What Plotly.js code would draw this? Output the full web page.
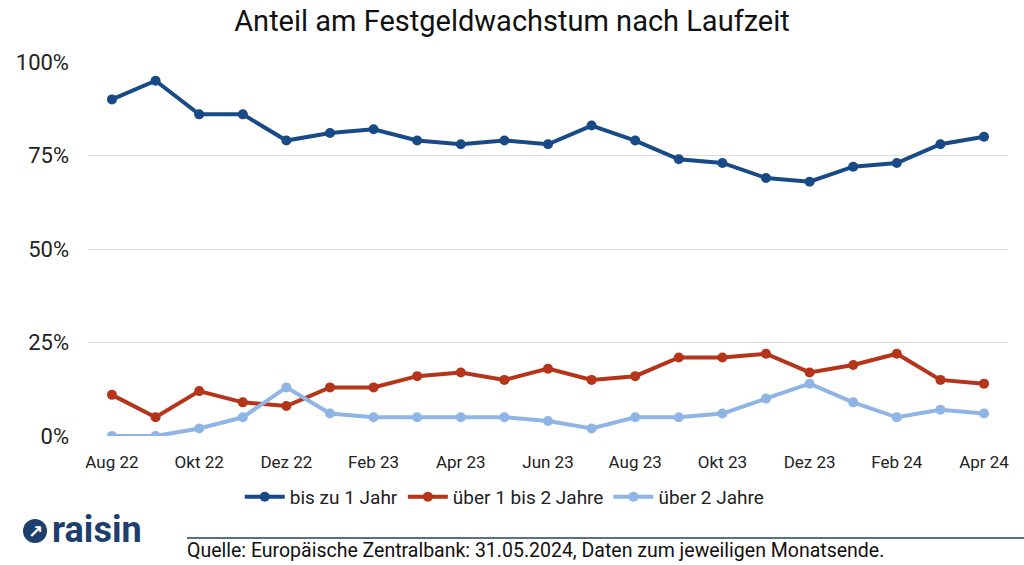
<!DOCTYPE html>
<html>
<head>
<meta charset="utf-8">
<script src="https://cdn.plot.ly/plotly-3.0.1.min.js"></script>
<style>
html,body{margin:0;padding:0;background:#fff;}
#chart{width:1024px;height:565px;}
</style>
</head>
<body>
<div id="chart"></div>
<script>
const months = ["Aug 22","Sep 22","Okt 22","Nov 22","Dez 22","Jan 23","Feb 23","Mär 23","Apr 23","Mai 23","Jun 23","Jul 23","Aug 23","Sep 23","Okt 23","Nov 23","Dez 23","Jan 24","Feb 24","Mär 24","Apr 24"];
const bisZu1Jahr = [90,95,86,86,79,81,82,79,78,79,78,83,79,74,73,69,68,72,73,78,80];
const ueber1bis2 = [11,5,12,9,8,13,13,16,17,15,18,15,16,21,21,22,17,19,22,15,14];
const ueber2 = [0,0,2,5,13,6,5,5,5,5,4,2,5,5,6,10,14,9,5,7,6];
const seriesNames = ["bis zu 1 Jahr","über 1 bis 2 Jahre","über 2 Jahre"];
const tickVals = ["Aug 22","Okt 22","Dez 22","Feb 23","Apr 23","Jun 23","Aug 23","Okt 23","Dez 23","Feb 24","Apr 24"];
const yTicks = [0,25,50,75,100];
const titleText = "Anteil am Festgeldwachstum nach Laufzeit";
const sourceText = "Quelle: Europäische Zentralbank: 31.05.2024, Daten zum jeweiligen Monatsende.";

const colors = ["#174a87","#b5341a","#8fb5e6"];
const data = [bisZu1Jahr, ueber1bis2, ueber2].map((vals,i)=>({
  x: months, y: vals, name: seriesNames[i], type:"scatter", mode:"lines+markers",
  line:{color:colors[i], width:4}, marker:{color:colors[i], size:10},
  hoverinfo:"skip"
}));

const layout = {
  width:1024, height:565,
  margin:{l:88, r:16, t:62, b:129},
  paper_bgcolor:"#fff", plot_bgcolor:"#fff",
  font:{family:"Roboto, sans-serif", color:"#222"},
  title:{text:titleText, x:0.5, xanchor:"center", y:0.963, yanchor:"middle", font:{size:29, color:"#111"}},
  xaxis:{type:"category", range:[-0.55,20.55], tickmode:"array", tickvals:tickVals, ticktext:tickVals,
         showgrid:false, zeroline:false, showline:false, ticks:"", tickfont:{size:17, color:"#222"},
         ticklabelstandoff:14},
  yaxis:{range:[0,100], tickmode:"array", tickvals:yTicks, ticktext:yTicks.map(v=>v+"%"),
         showgrid:true, gridcolor:"#dedede", gridwidth:1, zeroline:false, showline:false, ticks:"",
         tickfont:{size:22, color:"#222"}, ticklabelstandoff:18},
  legend:{orientation:"h", x:0.453, xanchor:"center", y:-0.163, yanchor:"middle",
          font:{size:19, color:"#222"}, itemwidth:40, traceorder:"normal"},
  shapes:[
    {type:"line", xref:"paper", yref:"paper", x0:(187-88)/920, x1:(1024-88)/920, y0:-(538-436)/374, y1:-(538-436)/374,
     line:{color:"#5c6f84", width:2}},
    {type:"circle", xref:"paper", yref:"paper", x0:(23-88)/920, x1:(47-88)/920, y0:-(519-436)/374, y1:-(543-436)/374,
     fillcolor:"#1c3f6e", line:{width:0}}
  ],
  annotations:[
    {text:"<b>↗</b>", xref:"paper", yref:"paper", x:(35-88)/920, y:-(531-436)/374, xanchor:"center", yanchor:"middle",
     showarrow:false, font:{size:18, color:"#fff", family:"DejaVu Sans"}},
    {text:"<b>raisin</b>", xref:"paper", yref:"paper", x:(50-88)/920, y:-(530-436)/374, xanchor:"left", yanchor:"middle",
     showarrow:false, font:{size:36, color:"#1c3f6e", family:"Roboto, sans-serif"}},
    {text:sourceText, xref:"paper", yref:"paper", x:(185-88)/920, y:-(550-436)/374, xanchor:"left", yanchor:"middle",
     showarrow:false, font:{size:19.5, color:"#111"}}
  ]
};
Plotly.newPlot("chart", data, layout, {displayModeBar:false, staticPlot:true});
</script>
</body>
</html>
